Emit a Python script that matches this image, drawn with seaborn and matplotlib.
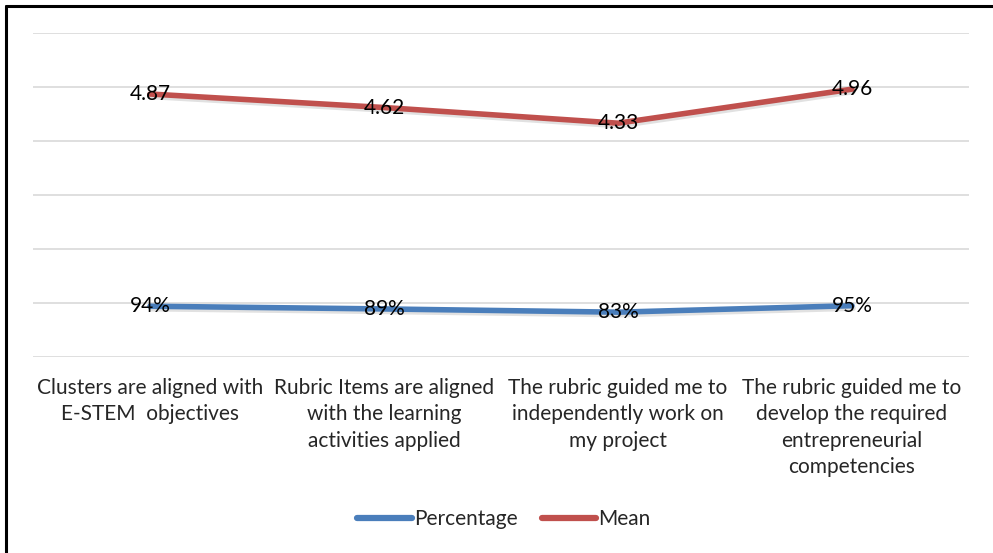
import matplotlib
matplotlib.use("Agg")
import matplotlib.pyplot as plt
import matplotlib.patheffects as pe
from matplotlib.lines import Line2D
import seaborn as sns
import pandas as pd

categories = [
    "Clusters are aligned with\nE-STEM  objectives",
    "Rubric Items are aligned\nwith the learning\nactivities applied",
    "The rubric guided me to\nindependently work on\nmy project",
    "The rubric guided me to\ndevelop the required\nentrepreneurial\ncompetencies",
]
percentage = [0.94, 0.89, 0.83, 0.95]
mean = [4.87, 4.62, 4.33, 4.96]
series_names = ["Percentage", "Mean"]
colors = {"Percentage": "#4A7EBB", "Mean": "#C0504D"}

sns.set_theme(style="white")
plt.rcParams["font.family"] = ["Lato", "DejaVu Sans"]

df = pd.DataFrame({
    "pos": list(range(len(categories))) * 2,
    "value": percentage + mean,
    "series": ["Percentage"] * len(percentage) + ["Mean"] * len(mean),
})

fig = plt.figure(figsize=(9.93, 5.53), dpi=100)
ax = fig.add_axes([33 / 993, 1 - 357 / 553, (969 - 33) / 993, (357 - 33) / 553])

sns.lineplot(data=df, x="pos", y="value", hue="series", hue_order=series_names,
             palette=colors, linewidth=4.0, ax=ax, legend=False, zorder=3)
shadow = [pe.SimpleLineShadow(offset=(0.8, -1.8), shadow_color="#888888", alpha=0.25),
          pe.Normal()]
for ln in ax.get_lines():
    ln.set_path_effects(shadow)
    ln.set_solid_capstyle("round")

fs = 15
for i, v in enumerate(percentage):
    ax.text(i, v, f"{round(v * 100)}%", ha="center", va="center", fontsize=fs,
            color="#000000", zorder=5)
for i, v in enumerate(mean):
    ax.text(i, v, f"{v:.2f}", ha="center", va="center", fontsize=fs,
            color="#000000", zorder=5)

ax.set_xlim(-0.5, len(categories) - 0.5)
ax.set_ylim(0, 6)
ax.set_yticks(range(0, 7))
ax.set_yticklabels([])
ax.set_xticks(range(len(categories)))
ax.set_xticklabels(categories, fontsize=fs, linespacing=1.4, va="top")
ax.tick_params(axis="x", length=0, pad=15)
ax.tick_params(axis="y", length=0)
ax.set_xlabel("")
ax.set_ylabel("")
ax.grid(axis="y", color="#D9D9D9", linewidth=1.2)
ax.grid(axis="x", visible=False)
for s in ax.spines.values():
    s.set_visible(False)

handles = [Line2D([0], [0], color=colors[n], linewidth=4.5, solid_capstyle="round")
           for n in series_names]
fig.legend(handles, series_names, loc="center",
           bbox_to_anchor=(0.5 + 7.5 / 993, 1 - 519 / 553),
           ncol=2, frameon=False, fontsize=fs, handlelength=2.6, handletextpad=0.12,
           columnspacing=1.15)

# outer frame around the chart
fig.add_artist(Line2D([6 / 993, 6 / 993], [0, 1 - 6 / 553], color="black",
                      linewidth=2.2, transform=fig.transFigure))
fig.add_artist(Line2D([6 / 993, 1], [1 - 6 / 553, 1 - 6 / 553], color="black",
                      linewidth=2.2, transform=fig.transFigure))

fig.savefig("out.png", dpi=100, facecolor="white")
